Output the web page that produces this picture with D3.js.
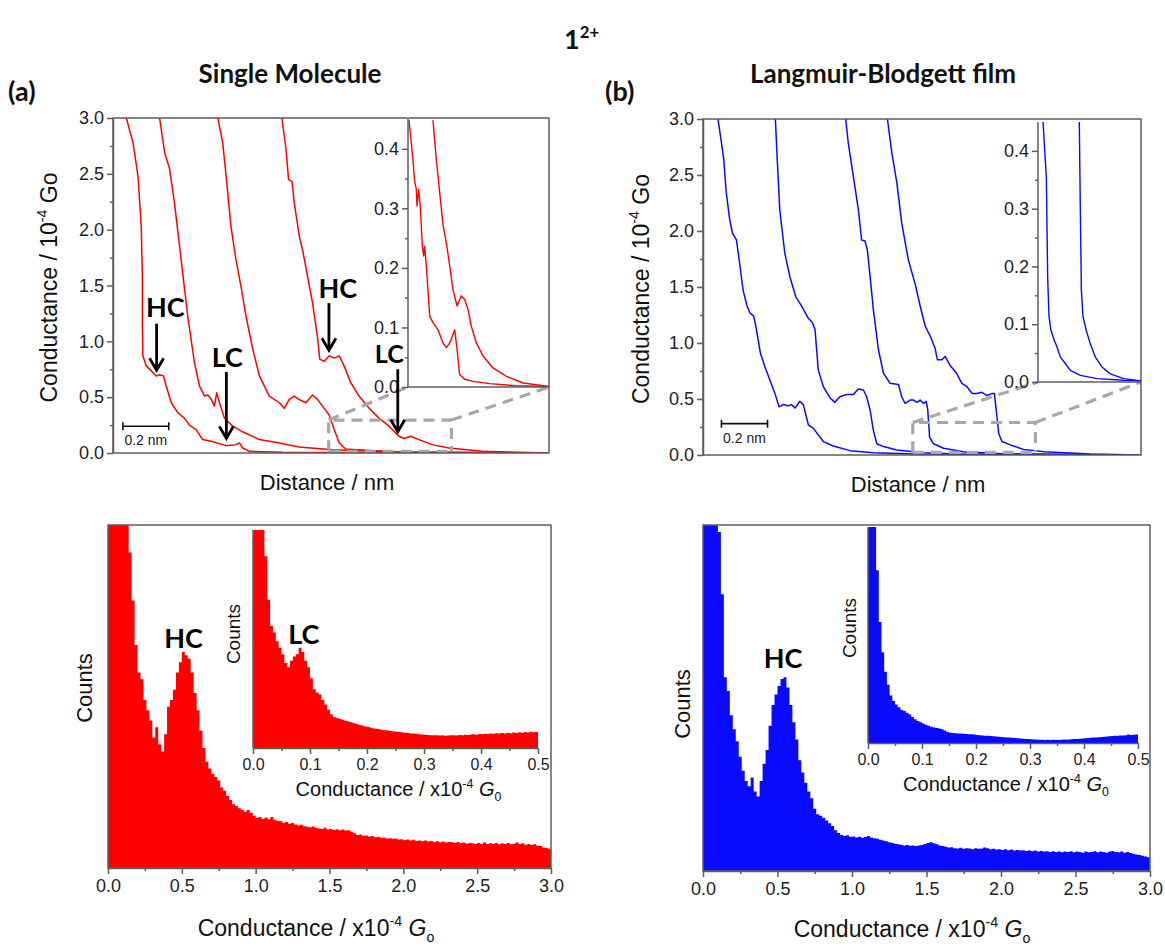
<!DOCTYPE html>
<html>
<head>
<meta charset="utf-8">
<script src="https://cdn.jsdelivr.net/npm/d3@7"></script>
<style>
  body { margin: 0; background: #fff; }
  svg { display: block; }
</style>
</head>
<body>
<svg id="fig" width="1165" height="947"></svg>
<script>
// ---------- Conductance-distance traces, single molecule (distance nm, G / 1e-4 G0) ----------
const smTrace1 = [[0.058,3.0],[0.087,2.78],[0.109,2.48],[0.123,2.03],[0.128,1.58],[0.128,1.13],[0.130,0.87],[0.145,0.78],[0.174,0.72],[0.188,0.69],[0.203,0.70],[0.220,0.69],[0.232,0.60],[0.254,0.45],[0.283,0.36],[0.312,0.31],[0.333,0.25],[0.362,0.21],[0.391,0.12],[0.435,0.10],[0.493,0.066],[0.536,0.075],[0.551,0.09],[0.565,0.045],[0.594,0.015],[0.74,0.006],[1.9,0.0]];
const smTrace2 = [[0.203,3.0],[0.225,2.69],[0.246,2.55],[0.268,2.24],[0.297,1.73],[0.326,1.22],[0.355,0.81],[0.377,0.60],[0.399,0.51],[0.413,0.52],[0.428,0.48],[0.442,0.42],[0.452,0.54],[0.464,0.45],[0.486,0.31],[0.522,0.24],[0.565,0.19],[0.638,0.12],[0.725,0.09],[0.81,0.054],[0.957,0.03],[1.246,0.009],[1.9,0.0]];
const smTrace3 = [[0.457,3.0],[0.478,2.78],[0.493,2.48],[0.514,2.03],[0.536,1.73],[0.558,1.49],[0.58,1.22],[0.609,0.93],[0.638,0.69],[0.681,0.51],[0.725,0.45],[0.746,0.40],[0.768,0.48],[0.79,0.51],[0.81,0.48],[0.84,0.45],[0.87,0.52],[0.891,0.48],[0.913,0.42],[0.942,0.34],[0.964,0.21],[0.986,0.09],[1.014,0.036],[1.10,0.024],[1.246,0.009],[1.9,0.0]];
const smTrace4 = [[0.736,3.0],[0.754,2.72],[0.765,2.45],[0.78,2.43],[0.79,2.24],[0.812,1.94],[0.826,1.82],[0.848,1.58],[0.87,1.34],[0.891,1.04],[0.901,0.84],[0.92,0.82],[0.942,0.87],[0.964,0.85],[0.986,0.87],[1.007,0.78],[1.036,0.63],[1.072,0.51],[1.116,0.40],[1.16,0.31],[1.203,0.24],[1.246,0.15],[1.268,0.13],[1.297,0.15],[1.333,0.12],[1.39,0.075],[1.464,0.045],[1.61,0.015],[1.9,0.0]];
// inset: low-conductance detail (relative position across the inset, G / 1e-4 G0)
const smInset1 = [[0.007,0.448],[0.035,0.382],[0.047,0.346],[0.059,0.332],[0.064,0.304],[0.076,0.332],[0.087,0.304],[0.102,0.236],[0.111,0.22],[0.118,0.236],[0.13,0.203],[0.154,0.119],[0.177,0.108],[0.213,0.096],[0.248,0.074],[0.272,0.066],[0.296,0.074],[0.314,0.085],[0.331,0.096],[0.348,0.063],[0.366,0.021],[0.402,0.013],[0.461,0.0095],[0.579,0.0056],[0.768,0.002],[1.0,0.001]];
const smInset2 = [[0.177,0.448],[0.201,0.382],[0.225,0.326],[0.248,0.273],[0.272,0.242],[0.296,0.203],[0.319,0.164],[0.348,0.136],[0.378,0.153],[0.402,0.147],[0.426,0.13],[0.449,0.102],[0.485,0.074],[0.532,0.052],[0.603,0.032],[0.697,0.018],[0.816,0.0067],[1.0,0.001]];

// ---------- Conductance-distance traces, Langmuir-Blodgett film ----------
const lbTrace1 = [[0.065,3.0],[0.08,2.79],[0.09,2.64],[0.101,2.34],[0.116,2.10],[0.128,1.98],[0.145,1.92],[0.159,1.71],[0.174,1.47],[0.191,1.33],[0.203,1.27],[0.22,1.24],[0.232,1.12],[0.249,0.91],[0.268,0.79],[0.29,0.67],[0.312,0.55],[0.33,0.43],[0.348,0.45],[0.37,0.44],[0.384,0.45],[0.399,0.42],[0.42,0.48],[0.435,0.45],[0.457,0.27],[0.478,0.24],[0.5,0.18],[0.522,0.12],[0.565,0.08],[0.638,0.039],[0.74,0.021],[0.957,0.006],[1.9,0.0]];
const lbTrace2 = [[0.314,3.0],[0.322,2.64],[0.333,2.19],[0.355,1.80],[0.377,1.59],[0.403,1.41],[0.428,1.33],[0.457,1.22],[0.475,1.18],[0.486,1.12],[0.5,0.76],[0.522,0.61],[0.551,0.51],[0.572,0.47],[0.594,0.52],[0.623,0.54],[0.652,0.54],[0.674,0.59],[0.696,0.58],[0.71,0.52],[0.725,0.40],[0.739,0.22],[0.754,0.10],[0.783,0.075],[0.84,0.045],[0.957,0.021],[1.10,0.009],[1.9,0.0]];
const lbTrace3 = [[0.619,3.0],[0.63,2.79],[0.652,2.49],[0.674,2.19],[0.688,1.92],[0.703,1.91],[0.713,1.83],[0.725,1.59],[0.739,1.30],[0.761,0.94],[0.783,0.73],[0.812,0.64],[0.848,0.63],[0.862,0.52],[0.877,0.46],[0.899,0.49],[0.913,0.49],[0.928,0.47],[0.942,0.49],[0.957,0.46],[0.968,0.48],[0.975,0.40],[0.983,0.16],[1.0,0.10],[1.043,0.06],[1.13,0.03],[1.32,0.009],[1.9,0.0]];
const lbTrace4 = [[0.80,3.0],[0.819,2.70],[0.841,2.43],[0.862,2.07],[0.891,1.74],[0.92,1.53],[0.942,1.33],[0.964,1.15],[0.986,1.06],[1.007,0.95],[1.017,0.85],[1.036,0.85],[1.05,0.88],[1.072,0.80],[1.10,0.73],[1.123,0.64],[1.145,0.61],[1.167,0.55],[1.188,0.55],[1.21,0.56],[1.232,0.53],[1.254,0.55],[1.264,0.55],[1.272,0.40],[1.283,0.19],[1.297,0.12],[1.333,0.09],[1.39,0.05],[1.48,0.03],[1.68,0.009],[1.9,0.0]];
const lbInset1 = [[0.049,0.45],[0.081,0.355],[0.094,0.18],[0.107,0.113],[0.126,0.089],[0.159,0.072],[0.184,0.061],[0.217,0.043],[0.265,0.032],[0.314,0.02],[0.411,0.0115],[0.573,0.0058],[0.83,0.003],[1.0,0.002]];
const lbInset2 = [[0.401,0.45],[0.411,0.297],[0.421,0.159],[0.437,0.113],[0.469,0.089],[0.508,0.066],[0.557,0.043],[0.621,0.026],[0.702,0.014],[0.832,0.0058],[1.0,0.002]];

// ---------- Conductance histograms (counts, arbitrary units) ----------
const histBin = 0.02;    // 0 – 3 (x1e-4 G0)
const insetBin = 0.005;  // 0 – 0.5 (x1e-4 G0)
const smHist = [150,148,145,140,135,128,118,92,78,65,57,55,49,46,43,38,41,36,34,39,
  47,49,52,57,60,63,62,61,57,51,46,40,35,31,29,27.5,26.5,25.5,23.5,22.5,
  21,19.8,18.6,18.1,17.4,17.0,16.4,16.9,16.1,15.2,14.6,14.9,14.3,14.7,14.2,14.9,14.1,13.7,13.6,13.2,
  13.4,12.9,13.1,12.7,12.4,12.6,12.2,12.0,11.9,12.1,11.7,11.5,11.4,11.7,11.2,11.4,11.1,11.3,11.0,11.2,
  10.9,11.0,10.6,10.1,9.6,9.8,9.4,9.5,9.2,9.3,9.0,9.1,8.8,8.9,8.6,8.7,8.5,8.6,8.3,8.4,
  8.1,8.3,8.0,8.2,7.9,8.0,7.8,8.0,7.7,7.9,7.6,7.8,7.5,7.7,7.4,7.6,7.5,7.3,7.6,7.2,
  7.4,7.1,7.3,7.2,7.0,7.3,7.1,7.4,7.0,7.2,7.1,7.3,6.9,7.2,7.0,7.3,6.9,7.1,7.4,7.0,
  7.2,6.8,7.0,6.7,6.9,6.5,6.4,6.0,5.8,5.6];
const smInsetHist = [150,140,125,110,88,68,56,53,49,46,43,39,37,40,42,43,46,44,40,37,
  32,27,25.5,24.5,22,20,17.5,15.5,14.2,13.8,13.4,13.0,12.5,12.1,11.8,11.3,11.0,10.6,10.3,9.9,
  9.6,9.3,9.0,8.8,8.6,8.3,8.1,8.0,7.8,7.6,7.4,7.3,7.1,7.0,6.9,6.7,6.6,6.5,6.3,6.2,
  6.1,6.0,5.9,5.8,5.9,5.7,5.8,5.6,5.7,5.8,5.9,5.7,6.0,5.9,6.1,6.0,6.2,6.3,6.1,6.4,
  6.3,6.5,6.4,6.6,6.5,6.8,6.6,6.9,6.7,7.0,6.8,7.1,6.9,7.2,7.0,7.3,7.1,7.4,7.2,7.3];
const lbHist = [150,145,140,132,120,98,80,56,52,45,41,37.5,33,29,26,24.5,27,23,21.5,26,
  31,35,42,48,51,53.5,55.5,56,53,48,43,38,32,28.5,25.5,23,21,18,16.4,16.0,
  15.4,14.6,13.8,13.0,11.8,11.0,10.4,10.1,10.3,9.9,10.0,9.7,9.9,9.6,9.8,10.1,9.7,9.5,9.3,9.0,
  8.8,8.6,8.3,8.1,7.9,7.7,7.6,7.4,7.5,7.3,7.4,7.2,7.4,7.5,7.8,8.1,8.3,8.0,7.7,7.4,
  7.2,7.0,6.8,6.9,6.6,6.5,6.7,6.4,6.6,6.5,6.3,6.6,6.4,6.5,6.8,6.6,6.3,6.4,6.2,6.3,
  6.1,6.3,6.0,6.2,5.9,6.1,5.9,6.0,5.8,5.9,5.7,5.9,5.6,5.8,5.6,5.7,5.5,5.7,5.5,5.6,
  5.4,5.6,5.5,5.7,5.4,5.6,5.5,5.3,5.6,5.4,5.5,5.7,5.4,5.6,5.5,5.3,5.6,5.8,5.5,5.4,
  5.6,5.3,5.5,5.2,5.0,4.8,4.6,4.4,4.2,4.0];
const lbInsetHist = [160,140,110,80,56,42,33,27,22,19.5,17.8,16.5,15.3,14.8,14.0,13.2,12.0,11.0,10.2,9.6,
  9.0,8.4,8.0,7.5,7.2,6.9,6.7,6.4,5.8,5.1,4.7,4.6,4.5,4.4,4.4,4.3,4.2,4.1,4.0,3.9,
  3.7,3.6,3.5,3.4,3.3,3.2,3.1,3.0,2.9,2.8,2.7,2.6,2.5,2.4,2.3,2.2,2.1,2.0,1.9,1.8,
  1.7,1.6,1.6,1.5,1.5,1.4,1.5,1.4,1.5,1.5,1.4,1.5,1.6,1.5,1.6,1.7,1.8,1.9,2.0,2.1,
  2.2,2.3,2.4,2.5,2.6,2.7,2.8,2.9,3.0,3.1,3.2,3.3,3.4,3.5,3.5,3.6,3.9,3.7,3.8,3.9];

// ---------- Tick values ----------
const traceTicks = [0, 0.5, 1.0, 1.5, 2.0, 2.5, 3.0];
const traceMinor = [0.25, 0.75, 1.25, 1.75, 2.25, 2.75];
const traceInsetTicks = [0, 0.1, 0.2, 0.3, 0.4];
const traceInsetMinor = [0.05, 0.15, 0.25, 0.35];
const histTicks = [0, 0.5, 1.0, 1.5, 2.0, 2.5, 3.0];
const histMinor = [0.25, 0.75, 1.25, 1.75, 2.25, 2.75];
const histInsetTicks = [0, 0.1, 0.2, 0.3, 0.4, 0.5];
const histInsetMinor = [0.05, 0.15, 0.25, 0.35, 0.45];

// ---------- Styles ----------
const RED = "#ff0000", BLUE = "#0a0aff", AXIS = "#5e5e5e";
const SANS = "'Liberation Sans', Arial, sans-serif";
const BOLD = "Lato, 'Open Sans', sans-serif";
const fmt1 = d3.format(".1f");

const svg = d3.select("#fig");
const defs = svg.append("defs");
let clipN = 0;
function clip(p) {
  const id = "clip" + (clipN++);
  defs.append("clipPath").attr("id", id).append("rect")
    .attr("x", p.L).attr("y", p.T).attr("width", p.R - p.L).attr("height", p.B - p.T);
  return id;
}

function styleAxis(ax, fs) {
  ax.selectAll("path.domain").attr("stroke", AXIS).attr("stroke-width", 1.5);
  ax.selectAll("line").attr("stroke", AXIS).attr("stroke-width", 1.5);
  ax.selectAll("text").attr("font-family", SANS).attr("font-size", fs).attr("fill", "#222");
}
function leftAxis(g, scale, x, major, minor, fs) {
  const ax = g.append("g").attr("transform", `translate(${x},0)`);
  ax.call(d3.axisLeft(scale).tickValues(major).tickFormat(fmt1).tickSize(6).tickSizeOuter(0).tickPadding(3));
  ax.append("g").call(d3.axisLeft(scale).tickValues(minor).tickFormat("").tickSize(3))
    .call(s => s.select(".domain").remove());
  styleAxis(ax, fs);
  return ax;
}
function bottomAxis(g, scale, y, major, minor, fs) {
  const ax = g.append("g").attr("transform", `translate(0,${y})`);
  ax.call(d3.axisBottom(scale).tickValues(major).tickFormat(fmt1).tickSize(6).tickSizeOuter(0).tickPadding(5));
  ax.append("g").call(d3.axisBottom(scale).tickValues(minor).tickFormat("").tickSize(3))
    .call(s => s.select(".domain").remove());
  styleAxis(ax, fs);
  return ax;
}
function frame(g, p) {
  g.append("rect").attr("x", p.L).attr("y", p.T).attr("width", p.R - p.L).attr("height", p.B - p.T)
    .attr("fill", "none").attr("stroke", AXIS).attr("stroke-width", 1.5);
}
// text built from parts; parts may be superscript, subscript or italic
function rich(g, x, y, parts, fs, opts = {}) {
  const t = g.append("text").attr("x", x).attr("y", y)
    .attr("font-family", opts.family || SANS).attr("font-size", fs)
    .attr("font-weight", opts.weight || "normal")
    .attr("text-anchor", opts.anchor || "middle").attr("fill", "#111");
  if (opts.rotate) t.attr("transform", `rotate(-90,${x},${y})`);
  let shift = 0;
  parts.forEach(p => {
    const s = t.append("tspan").text(p.t);
    let target = 0;
    if (p.sup) { target = -fs * 0.42; s.attr("font-size", fs * 0.62); }
    if (p.sub) { target = fs * 0.25; s.attr("font-size", fs * 0.62); }
    if (p.it) s.attr("font-style", "italic");
    s.attr("dy", target - shift);
    shift = target;
  });
  return t;
}
function arrowDown(g, x, y0, y1) {
  g.append("line").attr("x1", x).attr("x2", x).attr("y1", y0).attr("y2", y1 - 1)
    .attr("stroke", "#000").attr("stroke-width", 2.8);
  g.append("path").attr("d", `M${x - 7},${y1 - 12} L${x},${y1} L${x + 7},${y1 - 12}`)
    .attr("fill", "none").attr("stroke", "#000").attr("stroke-width", 2.8);
}
function hcLabel(g, x, y, txt, fs = 27) {
  g.append("text").attr("x", x).attr("y", y).attr("text-anchor", "middle")
    .attr("font-family", BOLD).attr("font-weight", 700).attr("font-size", fs).attr("fill", "#000").text(txt);
}

// ---------- Headings ----------
rich(svg, 564, 49, [{ t: "1" }, { t: "2+", sup: true }], 27, { family: BOLD, weight: 700, anchor: "start" });
rich(svg, 290, 83, [{ t: "Single Molecule" }], 26, { family: BOLD, weight: 700 });
rich(svg, 883, 83, [{ t: "Langmuir-Blodgett film" }], 26, { family: BOLD, weight: 700 });
rich(svg, 8, 101, [{ t: "(a)" }], 27, { family: BOLD, weight: 700, anchor: "start" });
rich(svg, 605, 101, [{ t: "(b)" }], 27, { family: BOLD, weight: 700, anchor: "start" });

// ---------- Trace panel ----------
function tracePanel(cfg) {
  const g = svg.append("g");
  const p = cfg.plot, ip = cfg.inset;
  const x = d3.scaleLinear().domain([0, 1.9]).range([p.L, p.R]);
  const y = d3.scaleLinear().domain([0, 3]).range([p.B, p.T]);
  const xi = d3.scaleLinear().domain([0, 1]).range([ip.L, ip.R]);
  const yi = d3.scaleLinear().domain([0, 0.45]).range([ip.B, ip.T]);
  const line = d3.line().x(d => x(d[0])).y(d => y(d[1]));
  const lineI = d3.line().x(d => xi(d[0])).y(d => yi(d[1]));

  const cm = clip(p), ci = clip(ip);
  g.append("g").attr("clip-path", `url(#${cm})`).selectAll("path").data(cfg.traces).join("path")
    .attr("d", line).attr("fill", "none").attr("stroke", cfg.color).attr("stroke-width", 1.5)
    .attr("stroke-linejoin", "round");

  // zoom guide
  const z = cfg.zoom;
  const guide = g.append("g").attr("fill", "none").attr("stroke", "#a8a8a8")
    .attr("stroke-width", 3.2).attr("stroke-dasharray", "11,7");
  guide.append("path").attr("d",
    `M${x(z.x0)},${y(z.y0)} L${x(z.x0)},${y(z.y1)} L${x(z.x1)},${y(z.y1)} L${x(z.x1)},${y(z.y0)} M${x(z.x0)},${y(z.y0)} L${x(z.x1)},${y(z.y0)}`);
  guide.append("path").attr("d", `M${x(z.x0)},${y(z.y1)} L${ip.L},${ip.B}`);
  guide.append("path").attr("d", `M${x(z.x1)},${y(z.y1)} L${ip.R},${ip.B}`);

  frame(g, p);
  leftAxis(g, y, p.L, traceTicks, traceMinor, 18);

  // inset
  g.append("g").attr("clip-path", `url(#${ci})`).selectAll("path").data(cfg.insetTraces).join("path")
    .attr("d", lineI).attr("fill", "none").attr("stroke", cfg.color).attr("stroke-width", 1.4)
    .attr("stroke-linejoin", "round");
  g.append("line").attr("x1", ip.L).attr("x2", ip.R).attr("y1", ip.B).attr("y2", ip.B)
    .attr("stroke", AXIS).attr("stroke-width", 1.5);
  const ia = leftAxis(g, yi, ip.L, traceInsetTicks, traceInsetMinor, 18);
  ia.select("path.domain").attr("d", `M0,${ip.B}V${ip.T}`);

  // scale bar
  const sb = cfg.scaleBar;
  const sy = y(sb.y);
  g.append("path").attr("d", `M${x(sb.x0)},${sy - 4}V${sy + 4}M${x(sb.x0)},${sy}H${x(sb.x0 + 0.2)}M${x(sb.x0 + 0.2)},${sy - 4}V${sy + 4}`)
    .attr("stroke", "#111").attr("stroke-width", 1.6).attr("fill", "none");
  g.append("text").attr("x", (x(sb.x0) + x(sb.x0 + 0.2)) / 2).attr("y", sy + 19).attr("text-anchor", "middle")
    .attr("font-family", SANS).attr("font-size", 14).attr("fill", "#222").text("0.2 nm");

  // annotations
  (cfg.notes || []).forEach(n => {
    hcLabel(g, x(n.tx), y(n.ty), n.text, n.fs);
    arrowDown(g, x(n.ax), y(n.a0), y(n.a1));
  });

  // axis titles
  rich(g, cfg.yTitleX, (p.T + p.B) / 2 + 2, [{ t: "Conductance / 10" }, { t: "-4", sup: true }, { t: " Go" }], 23, { rotate: true });
  rich(g, (p.L + p.R) / 2 - 4, p.B + 37, [{ t: "Distance / nm" }], 22);
}

tracePanel({
  plot: { L: 113, R: 549, T: 118, B: 453 },
  inset: { L: 408, R: 549, T: 119, B: 387 },
  color: RED,
  traces: [smTrace1, smTrace2, smTrace3, smTrace4],
  insetTraces: [smInset1, smInset2],
  zoom: { x0: 0.94, x1: 1.475, y0: 0.015, y1: 0.295 },
  scaleBar: { x0: 0.043, y: 0.24 },
  yTitleX: 57,
  notes: [
    { text: "HC", tx: 0.228, ty: 1.217, ax: 0.19, a0: 1.158, a1: 0.741 },
    { text: "LC", tx: 0.498, ty: 0.768, ax: 0.494, a0: 0.726, a1: 0.131 },
    { text: "HC", tx: 0.98, ty: 1.39, ax: 0.941, a0: 1.342, a1: 0.92 },
    { text: "LC", tx: 1.204, ty: 0.81, ax: 1.241, a0: 0.75, a1: 0.19, fs: 25 }
  ]
});
tracePanel({
  plot: { L: 703, R: 1141, T: 119, B: 455 },
  inset: { L: 1038, R: 1141, T: 122, B: 382 },
  color: BLUE,
  traces: [lbTrace1, lbTrace2, lbTrace3, lbTrace4],
  insetTraces: [lbInset1, lbInset2],
  zoom: { x0: 0.91, x1: 1.442, y0: 0.024, y1: 0.29 },
  scaleBar: { x0: 0.08, y: 0.28 },
  yTitleX: 649
});

// ---------- Histogram panel ----------
// each histogram is drawn as one stepped area so neighbouring bins join without seams
function histArea(g, values, bin, xs, ys, color, clipId) {
  const pts = values.map((v, i) => [i * bin, v]);
  pts.push([values.length * bin, values[values.length - 1]]);
  const area = d3.area().curve(d3.curveStepAfter)
    .x(d => xs(d[0])).y0(ys(0)).y1(d => ys(d[1]));
  g.append("path").attr("clip-path", `url(#${clipId})`).attr("d", area(pts)).attr("fill", color);
}

function histPanel(cfg) {
  const g = svg.append("g");
  const p = cfg.plot, ip = cfg.inset;
  const x = d3.scaleLinear().domain([0, 3]).range([p.L, p.R]);
  const y = d3.scaleLinear().domain([0, 100]).range([p.B, p.T]);
  const xi = d3.scaleLinear().domain([0, 0.5]).range([ip.L, ip.R]);
  const yi = d3.scaleLinear().domain([0, 100]).range([ip.B, ip.T]);
  const cm = clip(p), ci = clip(ip);

  histArea(g, cfg.hist, histBin, x, y, cfg.color, cm);
  frame(g, p);
  bottomAxis(g, x, p.B, histTicks, histMinor, 18);

  histArea(g, cfg.insetHist, insetBin, xi, yi, cfg.color, ci);
  g.append("line").attr("x1", ip.L).attr("x2", ip.L).attr("y1", ip.T).attr("y2", ip.B)
    .attr("stroke", AXIS).attr("stroke-width", 1.5);
  bottomAxis(g, xi, ip.B, histInsetTicks, histInsetMinor, 16);

  // labels
  rich(g, cfg.countsX, cfg.countsY, [{ t: "Counts" }], 22, { rotate: true });
  rich(g, cfg.insetCountsX, cfg.insetCountsY, [{ t: "Counts" }], 19, { rotate: true });
  rich(g, cfg.titleX, cfg.titleY, [{ t: "Conductance / x10" }, { t: "-4", sup: true }, { t: " " }, { t: "G", it: true }, { t: "o", sub: true }], 23);
  rich(g, (ip.L + ip.R) / 2 + 3, ip.B + 48, [{ t: "Conductance / x10" }, { t: "-4", sup: true }, { t: " " }, { t: "G", it: true }, { t: "0", sub: true }], 20);
  (cfg.notes || []).forEach(n => {
    const sx = n.inset ? xi : x, sy = n.inset ? yi : y;
    hcLabel(g, sx(n.tx), sy(n.ty), n.text);
  });
}

histPanel({
  plot: { L: 108, R: 551, T: 525, B: 868 },
  inset: { L: 253, R: 538, T: 530, B: 748 },
  color: RED,
  hist: smHist, insetHist: smInsetHist,
  countsX: 92, countsY: 688,
  insetCountsX: 240, insetCountsY: 634,
  titleX: 316, titleY: 936,
  notes: [
    { text: "HC", tx: 0.512, ty: 64.1 },
    { text: "LC", tx: 0.089, ty: 47.6, inset: true }
  ]
});
histPanel({
  plot: { L: 703, R: 1150, T: 525, B: 871 },
  inset: { L: 868, R: 1138, T: 527, B: 743 },
  color: BLUE,
  hist: lbHist, insetHist: lbInsetHist,
  countsX: 690, countsY: 704,
  insetCountsX: 856, insetCountsY: 628,
  titleX: 912, titleY: 937,
  notes: [
    { text: "HC", tx: 0.538, ty: 58.6 }
  ]
});
</script>
</body>
</html>
